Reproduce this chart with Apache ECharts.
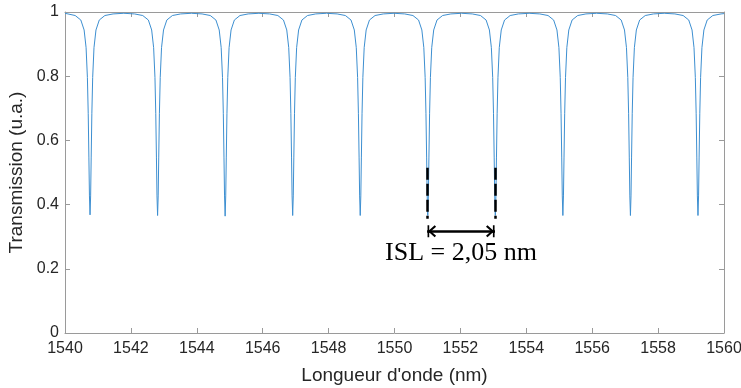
<!DOCTYPE html>
<html>
<head>
<meta charset="utf-8">
<script src="https://cdn.jsdelivr.net/npm/echarts@6/dist/echarts.min.js"></script>
<style>
html,body{margin:0;padding:0;background:#fff;}
#chart{width:741px;height:388px;}
</style>
</head>
<body>
<div id="chart"></div>
<script>
// Wavelength samples (nm)
const wavelength = [
  1540.00,
  1540.06, 1540.31, 1540.48, 1540.58, 1540.64, 1540.68, 1540.705, 1540.725, 1540.742, 1540.76, 1540.778, 1540.795, 1540.815, 1540.84, 1540.88, 1540.94, 1541.04, 1541.21, 1541.46, 1541.785,
  1542.11, 1542.36, 1542.53, 1542.63, 1542.69, 1542.73, 1542.755, 1542.775, 1542.792, 1542.81, 1542.828, 1542.845, 1542.865, 1542.89, 1542.93, 1542.99, 1543.09, 1543.26, 1543.51, 1543.835,
  1544.16, 1544.41, 1544.58, 1544.68, 1544.74, 1544.78, 1544.805, 1544.825, 1544.842, 1544.86, 1544.878, 1544.895, 1544.915, 1544.94, 1544.98, 1545.04, 1545.14, 1545.31, 1545.56, 1545.885,
  1546.21, 1546.46, 1546.63, 1546.73, 1546.79, 1546.83, 1546.855, 1546.875, 1546.892, 1546.91, 1546.928, 1546.945, 1546.965, 1546.99, 1547.03, 1547.09, 1547.19, 1547.36, 1547.61, 1547.935,
  1548.26, 1548.51, 1548.68, 1548.78, 1548.84, 1548.88, 1548.905, 1548.925, 1548.942, 1548.96, 1548.978, 1548.995, 1549.015, 1549.04, 1549.08, 1549.14, 1549.24, 1549.41, 1549.66, 1549.985,
  1550.31, 1550.56, 1550.73, 1550.83, 1550.89, 1550.93, 1550.955, 1550.975, 1550.992, 1551.01, 1551.028, 1551.045, 1551.065, 1551.09, 1551.13, 1551.19, 1551.29, 1551.46, 1551.71, 1552.035,
  1552.36, 1552.61, 1552.78, 1552.88, 1552.94, 1552.98, 1553.005, 1553.025, 1553.042, 1553.06, 1553.078, 1553.095, 1553.115, 1553.14, 1553.18, 1553.24, 1553.34, 1553.51, 1553.76, 1554.085,
  1554.41, 1554.66, 1554.83, 1554.93, 1554.99, 1555.03, 1555.055, 1555.075, 1555.092, 1555.11, 1555.128, 1555.145, 1555.165, 1555.19, 1555.23, 1555.29, 1555.39, 1555.56, 1555.81, 1556.135,
  1556.46, 1556.71, 1556.88, 1556.98, 1557.04, 1557.08, 1557.105, 1557.125, 1557.142, 1557.16, 1557.178, 1557.195, 1557.215, 1557.24, 1557.28, 1557.34, 1557.44, 1557.61, 1557.86, 1558.185,
  1558.51, 1558.76, 1558.93, 1559.03, 1559.09, 1559.13, 1559.155, 1559.175, 1559.192, 1559.21, 1559.228, 1559.245, 1559.265, 1559.29, 1559.33, 1559.39, 1559.49, 1559.66, 1559.91,
  1560.00
];
// Transmission (u.a.)
const transmission = [
  0.996,
  0.994, 0.989, 0.975, 0.944, 0.889, 0.796, 0.683, 0.548, 0.427, 0.368, 0.427, 0.548, 0.683, 0.796, 0.889, 0.944, 0.975, 0.989, 0.994, 0.996,
  0.994, 0.989, 0.975, 0.944, 0.889, 0.796, 0.683, 0.548, 0.427, 0.366, 0.427, 0.548, 0.683, 0.796, 0.889, 0.944, 0.975, 0.989, 0.994, 0.996,
  0.994, 0.989, 0.975, 0.944, 0.889, 0.796, 0.683, 0.548, 0.427, 0.364, 0.427, 0.548, 0.683, 0.796, 0.889, 0.944, 0.975, 0.989, 0.994, 0.996,
  0.994, 0.989, 0.975, 0.944, 0.889, 0.796, 0.683, 0.548, 0.427, 0.366, 0.427, 0.548, 0.683, 0.796, 0.889, 0.944, 0.975, 0.989, 0.994, 0.996,
  0.994, 0.989, 0.975, 0.944, 0.889, 0.796, 0.683, 0.548, 0.427, 0.366, 0.427, 0.548, 0.683, 0.796, 0.889, 0.944, 0.975, 0.989, 0.994, 0.996,
  0.994, 0.989, 0.975, 0.944, 0.889, 0.796, 0.683, 0.548, 0.427, 0.366, 0.427, 0.548, 0.683, 0.796, 0.889, 0.944, 0.975, 0.989, 0.994, 0.996,
  0.994, 0.989, 0.975, 0.944, 0.889, 0.796, 0.683, 0.548, 0.427, 0.366, 0.427, 0.548, 0.683, 0.796, 0.889, 0.944, 0.975, 0.989, 0.994, 0.996,
  0.994, 0.989, 0.975, 0.944, 0.889, 0.796, 0.683, 0.548, 0.427, 0.366, 0.427, 0.548, 0.683, 0.796, 0.889, 0.944, 0.975, 0.989, 0.994, 0.996,
  0.994, 0.989, 0.975, 0.944, 0.889, 0.796, 0.683, 0.548, 0.427, 0.366, 0.427, 0.548, 0.683, 0.796, 0.889, 0.944, 0.975, 0.989, 0.994, 0.996,
  0.994, 0.989, 0.975, 0.944, 0.889, 0.796, 0.683, 0.548, 0.427, 0.366, 0.427, 0.548, 0.683, 0.796, 0.889, 0.944, 0.975, 0.989, 0.994,
  0.995
];
// Annotation (ISL between two resonances)
const islDips = [1550.99, 1553.05];
const islDashY = [0.515, 0.356];
const islArrowY = 0.317;
const islText = 'ISL = 2,05 nm';
const islTextPos = [1552.02, 0.248];

const xTicks = {min: 1540, max: 1560, interval: 2};
const yTicks = {min: 0, max: 1, interval: 0.2};

const axisColor = '#9a9a9a';
const textColor = '#262626';
const sans = '"Liberation Sans", Arial, sans-serif';

const chart = echarts.init(document.getElementById('chart'), null, {renderer: 'canvas'});

const arrowPath = 'path://M5.95,-9 L6.05,-9 L6.05,-8.95 Z M0,0 L12,0 L12,1.6 L0,1.6 Z M6,0.4 L12,6.8 L10.6,8.2 L6,3.3 L1.4,8.2 L0,6.8 Z';

function xAx(pos, show) {
  return {
    type: 'value', position: pos, min: xTicks.min, max: xTicks.max, interval: xTicks.interval,
    axisLine: {show: true, onZero: false, lineStyle: {color: axisColor, width: 1}},
    axisTick: {show: true, inside: true, length: 5, lineStyle: {color: axisColor}},
    axisLabel: {show: show, color: textColor, fontSize: 16, fontFamily: sans, margin: 8,
                formatter: v => String(v)},
    splitLine: {show: false},
    name: show ? "Longueur d'onde (nm)" : '',
    nameLocation: 'middle', nameGap: 33,
    nameTextStyle: {color: textColor, fontSize: 19, fontFamily: sans}
  };
}
function yAx(pos, show) {
  return {
    type: 'value', position: pos, min: yTicks.min, max: yTicks.max, interval: yTicks.interval,
    axisLine: {show: true, onZero: false, lineStyle: {color: axisColor, width: 1}},
    axisTick: {show: true, inside: true, length: 5, lineStyle: {color: axisColor}},
    axisLabel: {show: show, color: textColor, fontSize: 16, fontFamily: sans, margin: 6,
                formatter: v => String(+v.toFixed(1))},
    splitLine: {show: false},
    name: show ? 'Transmission (u.a.)' : '',
    nameLocation: 'middle', nameGap: 29,
    nameTextStyle: {color: textColor, fontSize: 19, fontFamily: sans}
  };
}

const option = {
  animation: false,
  backgroundColor: '#ffffff',
  grid: {left: 65, right: 17, top: 12, bottom: 55, containLabel: false, outerBoundsMode: 'none'},
  xAxis: [xAx('bottom', true), xAx('top', false)],
  yAxis: [yAx('left', true), yAx('right', false)],
  series: [{
    type: 'line',
    data: wavelength.map((w, i) => [w, transmission[i]]),
    showSymbol: false,
    symbol: 'none',
    lineStyle: {color: '#3d8fd1', width: 1},
    silent: true,
    markLine: {
      silent: true,
      animation: false,
      symbol: ['none', 'none'],
      label: {show: false},
      data: [
        [{coord: [islDips[0], islDashY[0]], lineStyle: {color: '#000', width: 2.5, type: [12, 4]}},
         {coord: [islDips[0], islDashY[1]]}],
        [{coord: [islDips[1], islDashY[0]], lineStyle: {color: '#000', width: 2.5, type: [12, 4]}},
         {coord: [islDips[1], islDashY[1]]}],
        [{coord: [islDips[0], islArrowY], symbol: arrowPath, symbolSize: [12, 18], lineStyle: {color: '#000', width: 2.5, type: 'solid'}},
         {coord: [islDips[1], islArrowY], symbol: arrowPath, symbolSize: [12, 18]}]
      ]
    },
    markPoint: {
      silent: true,
      symbol: 'circle',
      symbolSize: 0,
      data: [{coord: islTextPos, value: 0}],
      label: {
        show: true, position: 'inside', formatter: islText,
        color: '#000', fontSize: 26, fontFamily: '"Liberation Serif", "Times New Roman", serif'
      }
    }
  }]
};
chart.setOption(option);
</script>
</body>
</html>
